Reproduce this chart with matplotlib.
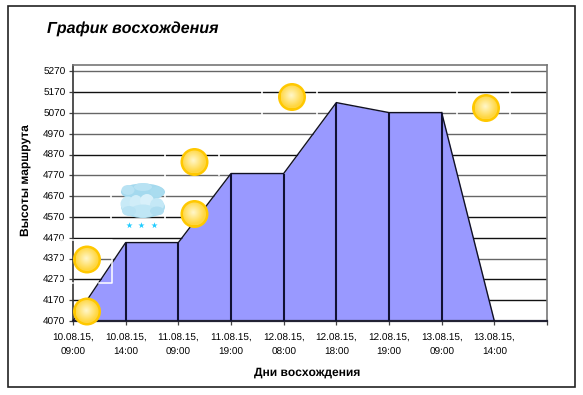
import numpy as np
import matplotlib
matplotlib.use("Agg")
import matplotlib.pyplot as plt
from matplotlib.patches import Rectangle, Circle, Ellipse

W, H = 583, 395
labels = ["10.08.15,\n09:00", "10.08.15,\n14:00", "11.08.15,\n09:00", "11.08.15,\n19:00",
          "12.08.15,\n08:00", "12.08.15,\n18:00", "12.08.15,\n19:00", "13.08.15,\n09:00", "13.08.15,\n14:00"]
heights = [4070, 4447, 4447, 4779, 4779, 5120, 5072, 5072, 4070]
yticks = [4070, 4170, 4270, 4370, 4470, 4570, 4670, 4770, 4870, 4970, 5070, 5170, 5270]
grid_dark = [4170, 4270, 4470, 4570, 4870, 5170]
suns_px = [(87, 311.5), (87, 259.5), (194.5, 214), (194.5, 162), (292, 97), (486, 108)]

plt.rcParams['font.family'] = ['Liberation Sans', 'DejaVu Sans']
plt.rcParams['text.hinting'] = 'no_hinting'
plt.rcParams['text.hinting_factor'] = 1
fig = plt.figure(figsize=(W/100, H/100), dpi=100)
fig.patch.set_facecolor('white')
L, R, T, B = 73, 547, 65, 321
ax = fig.add_axes([L/W, 1-B/H, (R-L)/W, (B-T)/H])
ax.set_xlim(0, 9)
ymin = 4070
ax.set_ylim(ymin, ymin + (B-T)/20.8*100)
x = np.arange(len(heights))
for y in yticks:
    ax.axhline(y, color='#111111' if y in grid_dark else '#666666', lw=1.0, zorder=1)
ax.fill_between(x, heights, ymin, color='#9999ff', lw=0, zorder=2)
ax.plot(x[:-1], heights[:-1], color='#111122', lw=1.0, zorder=3)
ax.plot(x[-2:], heights[-2:], color='#111122', lw=1.0, zorder=3)
ax.vlines(x[1:-1], ymin, heights[1:-1], color='#111133', lw=1.5, zorder=3)
ax.set_xticks(np.arange(0, 10))
ax.set_xticklabels(labels + [""], fontsize=7, linespacing=1.65)
ax.set_yticks(yticks)
ax.set_yticklabels([str(v) for v in yticks], fontsize=7, va='center_baseline')
ax.tick_params(axis='both', length=3, width=0.9, color='#444444', pad=2.5)
ax.tick_params(axis='x', pad=6)
for s in ['top', 'right', 'left']:
    ax.spines[s].set_color('#777777'); ax.spines[s].set_linewidth(1.2)
ax.spines['left'].set_color('#333333')
ax.spines['bottom'].set_color('#222233'); ax.spines['bottom'].set_linewidth(1.6)

# overlay in pixel coordinates
ov = fig.add_axes([0, 0, 1, 1], facecolor='none')
ov.set_xlim(0, W); ov.set_ylim(H, 0); ov.axis('off')
ov.add_patch(Rectangle((7.5, 5.5), 567.5, 381, fill=False, ec='#222222', lw=1.2))

def sun(cx, cy, r=14):
    ov.add_patch(Circle((cx, cy), r, fc='#ffc800', ec='none', zorder=5))
    n = 60
    yy, xx = np.mgrid[-1:1:n*1j, -1:1:n*1j]
    d = np.clip(np.hypot(xx+0.1, yy+0.1), 0, 1)[..., None]
    c0 = np.array([1.0, 0.97, 0.80]); c1 = np.array([1.0, 0.84, 0.25])
    img = c0*(1-d) + c1*d
    im = ov.imshow(img, extent=(cx-r+2.5, cx+r-2.5, cy+r-2.5, cy-r+2.5), zorder=6, aspect='auto', interpolation='bilinear')
    im.set_clip_path(Circle((cx, cy), r-2.5, transform=ov.transData))

for p in suns_px:
    sun(*p)
ov.set_xlim(0, W); ov.set_ylim(H, 0)

# white outline left by the pasted icons (over grid and fill)
ov.plot([59, 111.5, 111.5, 99], [239.5, 239.5, 283, 283], color='white', lw=1.1, zorder=4)
ov.plot([59, 73], [283, 283], color='white', lw=1.1, zorder=4)
ov.plot([59, 59], [240, 283], color='white', lw=0.9, zorder=4)
# small gaps in gridlines at the edges of icon boxes
for gx, y0, y1 in [(111, 185, 222), (165, 148, 232), (219, 148, 175), (262, 85, 115),
                   (317, 85, 115), (457, 88, 118), (510, 88, 118)]:
    ov.plot([gx, gx], [y0, y1], color='white', lw=1.2, zorder=1.5)

# snow cloud
cloud = [(143, 192, 44, 17, '#a4d9ee'), (128, 190, 13, 10, '#b8e2f3'), (143, 187, 18, 8, '#b8e2f3'),
         (157, 192, 14, 11, '#a9dcef'),
         (143, 207, 44, 22, '#a9dcef'), (128, 204, 15, 15, '#c8eaf7'), (136, 203, 13, 16, '#d0edf8'),
         (147, 201, 14, 14, '#d8f0fa'), (157, 205, 14, 14, '#c4e8f6'), (143, 211, 26, 13, '#bfe6f5'),
         (129, 211, 14, 10, '#b8e2f3'), (157, 211, 14, 9, '#aeddf0')]
for (cx, cy, w, h, col) in cloud:
    ov.add_patch(Ellipse((cx, cy), w, h, fc=col, ec='none', zorder=5))
ov.scatter([128.5, 141, 154], [225, 225, 225], marker='*', s=22, color='#20ccff', lw=0, zorder=5)

fig.text(47/W, 1-28.5/H, "График восхождения", fontsize=11.7, fontweight='bold', fontstyle='italic', va='center')
fig.text(307/W, 1-373/H, "Дни восхождения", fontsize=8.8, fontweight='bold', ha='center', va='center')
fig.text(25/W, 1-180/H, "Высоты маршрута", fontsize=8.8, fontweight='bold', rotation=90, ha='center', va='center')
fig.savefig('out.png', dpi=100)
